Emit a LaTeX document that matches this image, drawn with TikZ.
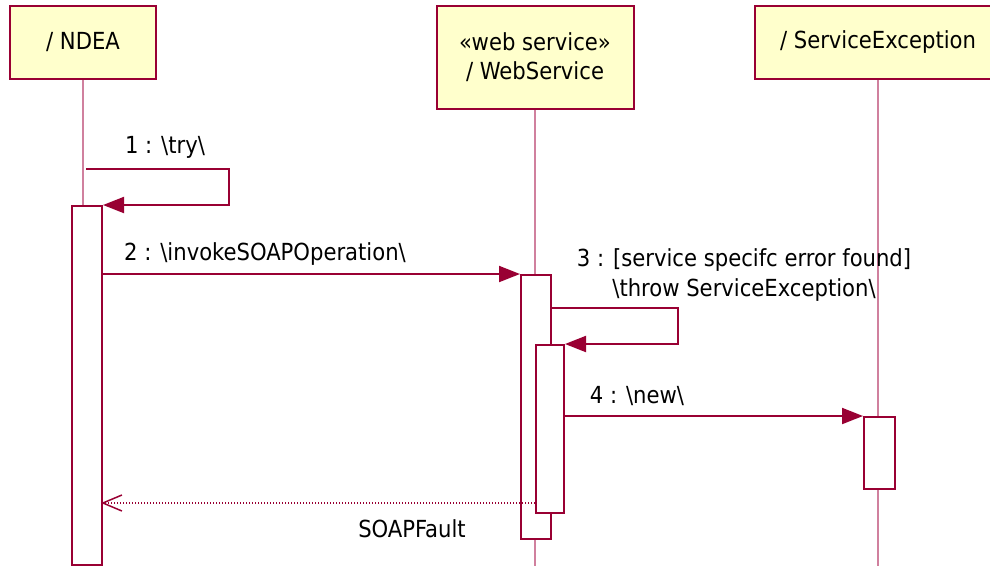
\documentclass[tikz,border=0pt]{standalone}
\usepackage{fontspec}
\setmainfont{DejaVu Sans Condensed}
\usetikzlibrary{arrows.meta}
\definecolor{umlred}{RGB}{153,0,51}
\definecolor{lifel}{RGB}{208,128,158}
\definecolor{hdrfill}{RGB}{255,255,204}
\begin{document}
\begin{tikzpicture}[x=1pt,y=-1pt,
  hdr/.style={draw=umlred, line width=2pt, fill=hdrfill, inner sep=0pt, align=center,
              font=\fontsize{23.5}{29}\selectfont},
  actbox/.style={draw=umlred, line width=2pt, fill=white, inner sep=0pt, anchor=north west},
  life/.style={draw=lifel, line width=1.2pt},
  msg/.style={draw=umlred, line width=2pt, -{Triangle[length=21pt,width=16pt]}},
  ret/.style={draw=umlred, line width=1.5pt, dash pattern=on 1.5pt off 1.5pt,
              -{Straight Barb[length=19pt,width=16pt,line width=1.5pt]}},
  lbl/.style={inner sep=0pt, align=center, font=\fontsize{23.5}{29.5}\selectfont}]
\useasboundingbox (0,0) rectangle (990,566);

% headers
\node[hdr, minimum width=146pt, minimum height=73pt] (ndea) at (83,42.5) {/ NDEA};
\node[hdr, minimum width=197pt, minimum height=103pt] (ws) at (535,57.5) {«web service»\\/ WebService};
\node[hdr, minimum width=246pt, minimum height=73pt] (se) at (878,42.5) {/ ServiceException};

% lifelines
\coordinate (ndeaend) at (83,566);
\coordinate (wsend) at (535,566);
\coordinate (seend) at (878,566);
\draw[life] (ndea.south) -- (ndeaend);
\draw[life] (ws.south) -- (wsend);
\draw[life] (se.south) -- (seend);

% activations
\node[actbox, minimum width=30pt, minimum height=359pt] (a1) at (71,205) {};
\node[actbox, minimum width=30pt, minimum height=264pt] (a2) at (520,274) {};
\node[actbox, minimum width=28pt, minimum height=168pt] (a3) at (535,344) {};
\node[actbox, minimum width=31pt, minimum height=72pt] (a4) at (863,416) {};

% message 1 (self)
\coordinate (m1s) at (86,169);
\coordinate (m1c) at (229,169);
\coordinate (m1d) at (229,205);
\draw[msg] (m1s) -- (m1c) -- (m1d) -- (a1.north east);
\node[lbl] (l1) at (165,147) {1 : \textbackslash try\textbackslash};

% message 2
\draw[msg] (a1.north east |- a2.north west) -- (a2.north west);
\node[lbl] (l2) at (265,254) {2 : \textbackslash invokeSOAPOperation\textbackslash};

% message 3 (self)
\coordinate (m3s) at (550,308);
\coordinate (m3c) at (678,308);
\coordinate (m3d) at (678,344);
\draw[msg] (m3s) -- (m3c) -- (m3d) -- (a3.north east);
\node[lbl] (l3) at (744,275) {3 : [service specifc error found]\\\textbackslash throw ServiceException\textbackslash};

% message 4
\draw[msg] (a3.north east |- a4.north west) -- (a4.north west);
\node[lbl] (l4) at (637,396) {4 : \textbackslash new\textbackslash};

% return
\coordinate (rs) at (535,503);
\coordinate (re) at (101,503);
\draw[ret] (rs) -- (re);
\node[lbl] (l5) at (412,529) {SOAPFault};
\end{tikzpicture}
\end{document}
